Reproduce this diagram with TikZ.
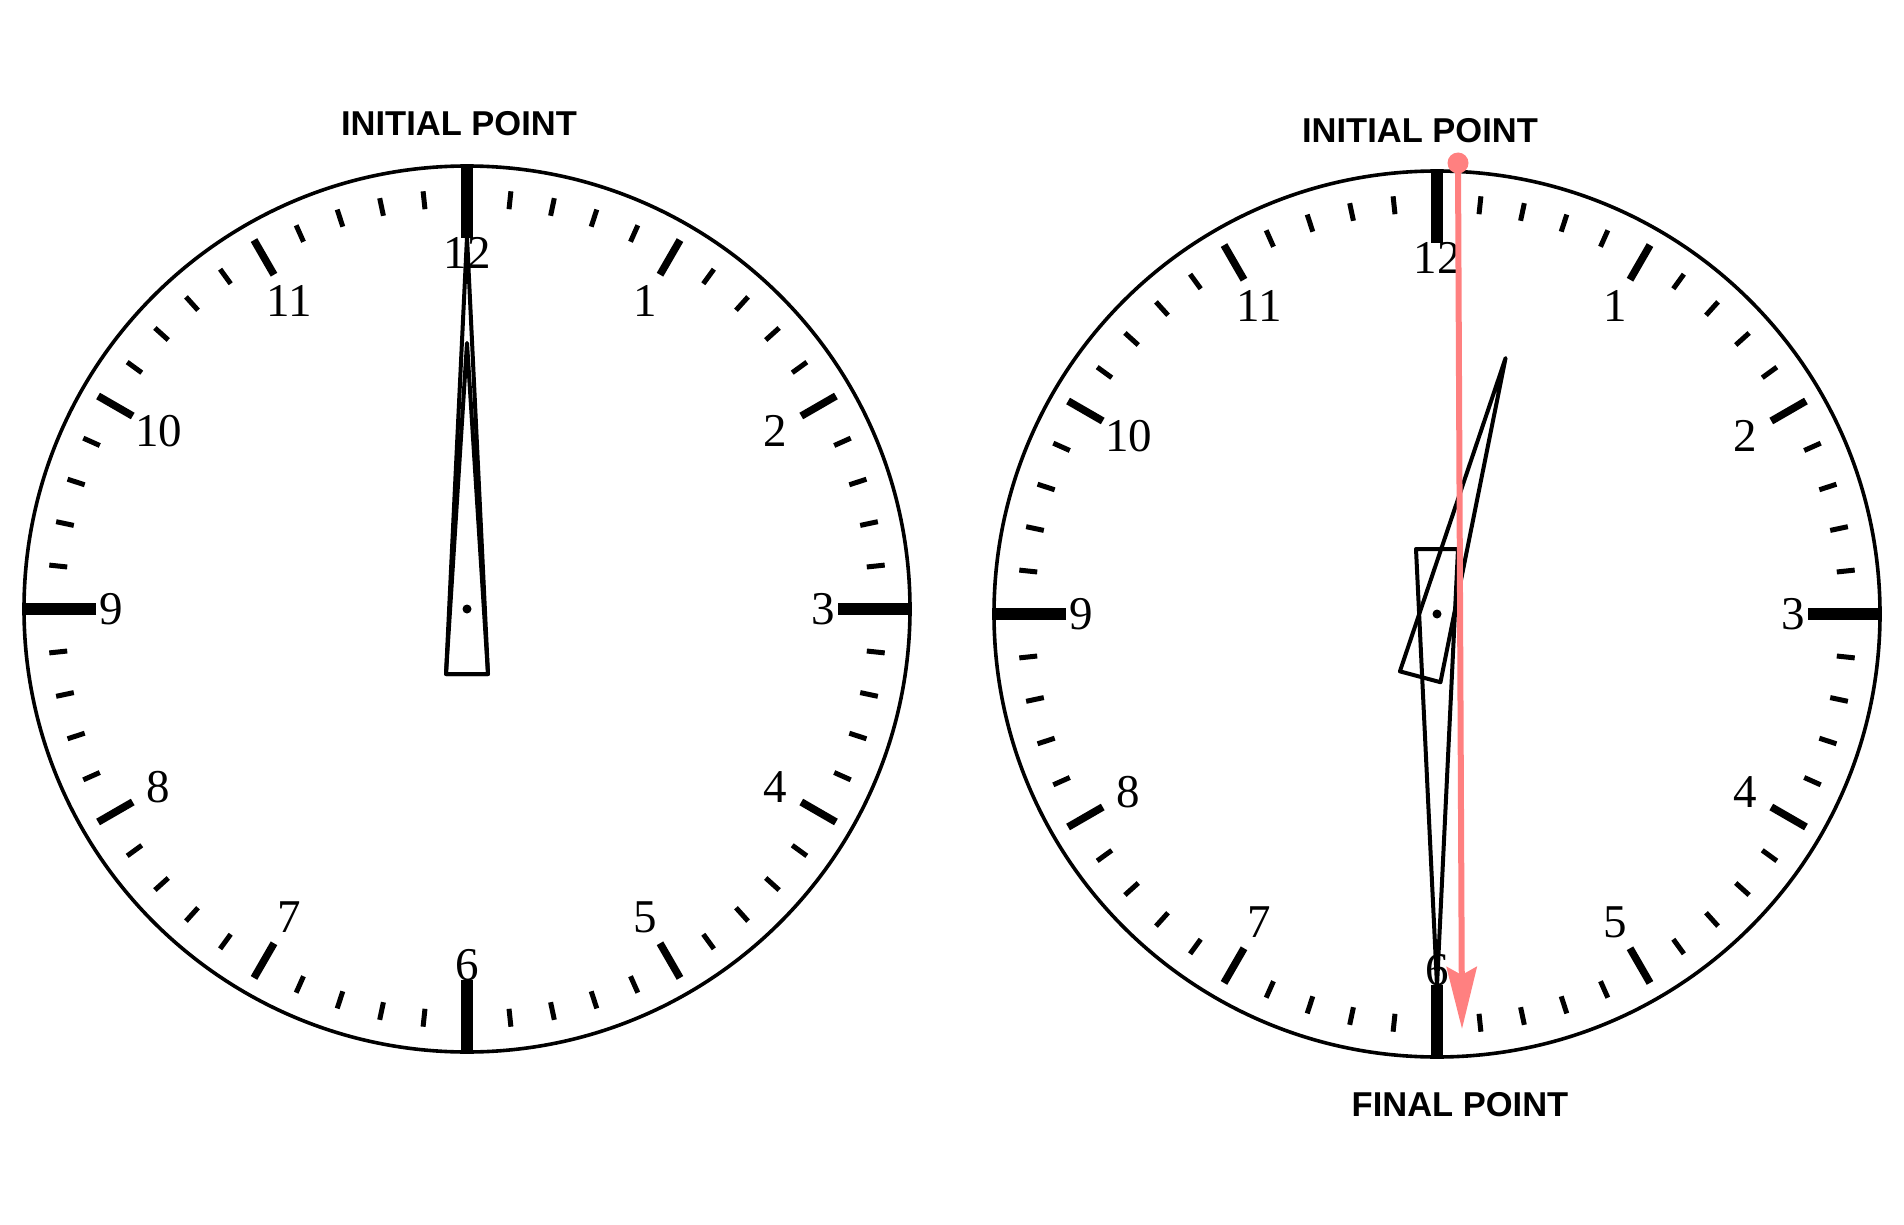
\documentclass[tikz,border=0pt]{standalone}
\usepackage{fontspec}
\setmainfont{Liberation Serif}
\newfontfamily\labelfont{Liberation Sans}
\usetikzlibrary{arrows.meta}
\definecolor{pathred}{RGB}{255,128,128}

\begin{document}
\begin{tikzpicture}[
  x=1pt,
  y=-1pt,
  line join=round,
  every node/.style={inner sep=0pt},
  minortick/.style={line width=5pt},
  hourtick/.style={line width=7.5pt},
  quartertick/.style={line width=11.5pt},
  hand/.style={line width=4pt},
  digit/.style={font=\fontsize{47}{47}\selectfont},
  caption/.style={font=\labelfont\bfseries\fontsize{34.5}{34.5}\selectfont, anchor=base}
]
  \useasboundingbox (0,0) rectangle (1904,1225);

  % Центры циферблатов
  \coordinate (L) at ( 467,609);
  \coordinate (R) at (1437,614);

  % Циферблаты: обод, риски, цифры
  \foreach \c in {L,R} {
    \begin{scope}[shift={(\c)}]
      \draw[line width=3.6pt] (0,0) circle[radius=443];

      % мелкие риски (минуты)
      \foreach \m in {0,...,59}
        \draw[minortick, rotate=6*\m] (0,-402) -- (0,-420);

      % риски часов
      \foreach \h in {1,...,12}
        \draw[hourtick, rotate=30*\h] (0,-386) -- (0,-426);

      % риски 12, 3, 6, 9
      \foreach \q in {0,1,2,3}
        \draw[quartertick, rotate=90*\q] (0,-371) -- (0,-443);

      % цифры
      \foreach \h in {1,...,12}
        \node[digit] (\c-\h) at ({30*\h-90}:356) {\h};
    \end{scope}
  }

  % Стрелки левых часов: 12:00
  \begin{scope}[shift={(L)}]
    \draw[hand] (-21,65) -- (21,65) -- (0,-372) -- cycle;
    \draw[hand] (-21,65) -- (21,65) -- (0,-266) -- cycle;
  \end{scope}

  % Стрелки правых часов: 12:30
  % (поворот по часовой стрелке -- отрицательный угол)
  \begin{scope}[shift={(R)}, rotate=180]
    \draw[hand] (-21,65) -- (21,65) -- (0,-372) -- cycle;
  \end{scope}
  \begin{scope}[shift={(R)}, rotate=-15]
    \draw[hand] (-21,65) -- (21,65) -- (0,-265) -- cycle;
  \end{scope}

  % Оси стрелок
  \fill (L) circle[radius=4.5];
  \fill (R) circle[radius=4.5];

  % Подписи
  \node[caption] (initL) at ( 459,136) {INITIAL POINT};
  \node[caption] (initR) at (1420,143) {INITIAL POINT};
  \node[caption] (final) at (1460,1116) {FINAL POINT};

  % Путь конца минутной стрелки
  \coordinate (start)  at (1458,163);
  \coordinate (finish) at (1462,1029);
  \draw[pathred, line width=6pt,
        -{Stealth[length=62pt, width=30pt, inset=8pt]}]
    (start) -- (finish);
  \fill[pathred] (start) circle[radius=10.5];
\end{tikzpicture}
\end{document}
